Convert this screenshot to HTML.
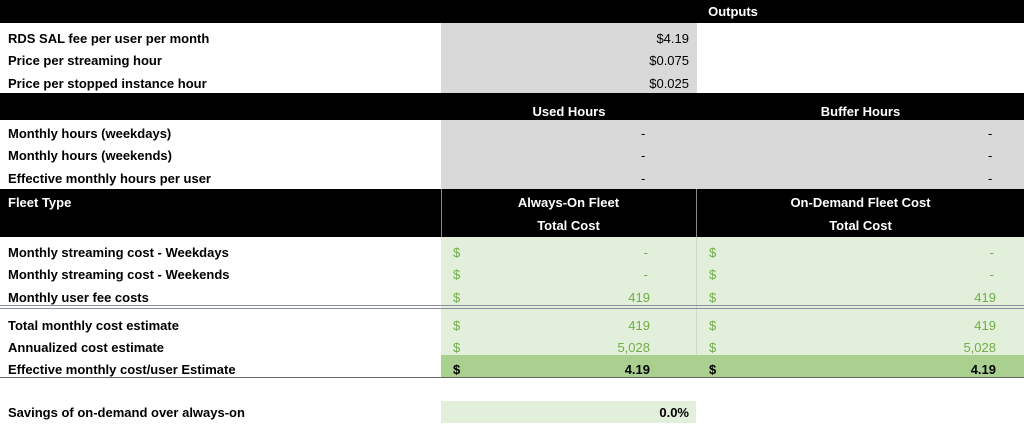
<!DOCTYPE html>
<html><head><meta charset="utf-8"><style>
body{margin:0;width:1024px;height:433px;background:#fff;position:relative;overflow:hidden;font-family:"Liberation Sans",Arial,sans-serif;font-size:13px;font-weight:bold;}
.b{position:absolute;}
.t{position:absolute;white-space:nowrap;line-height:16px;}
.w{color:#fff}
.g{color:#70ad47;font-weight:normal}
.n{font-weight:normal}
</style></head><body>
<!-- top black -->
<div class="b" style="left:0;top:0;width:1024px;height:23px;background:#000"></div>
<div class="t w" style="left:697px;width:72px;top:4px;text-align:center">Outputs</div>
<div class="b" style="left:441px;top:23px;width:256px;height:70px;background:#d9d9d9"></div>
<div class="t" style="left:8px;top:31px">RDS SAL fee per user per month</div>
<div class="t" style="left:8px;top:53px">Price per streaming hour</div>
<div class="t" style="left:8px;top:76px">Price per stopped instance hour</div>
<div class="t n" style="right:335px;top:31px">$4.19</div>
<div class="t n" style="right:335px;top:53px">$0.075</div>
<div class="t n" style="right:335px;top:76px">$0.025</div>
<div class="b" style="left:0;top:93px;width:1024px;height:27px;background:#000"></div>
<div class="t w" style="left:441px;width:256px;top:104px;text-align:center">Used Hours</div>
<div class="t w" style="left:697px;width:327px;top:104px;text-align:center">Buffer Hours</div>
<div class="b" style="left:441px;top:120px;width:583px;height:69px;background:#d9d9d9"></div>
<div class="t" style="left:8px;top:126px">Monthly hours (weekdays)</div>
<div class="t" style="left:8px;top:148px">Monthly hours (weekends)</div>
<div class="t" style="left:8px;top:171px">Effective monthly hours per user</div>
<div class="t n" style="left:641px;top:126px">-</div><div class="t n" style="left:988px;top:126px">-</div>
<div class="t n" style="left:641px;top:148px">-</div><div class="t n" style="left:988px;top:148px">-</div>
<div class="t n" style="left:641px;top:171px">-</div><div class="t n" style="left:988px;top:171px">-</div>
<div class="b" style="left:0;top:189px;width:1024px;height:48px;background:#000"></div>
<div class="b" style="left:441px;top:189px;width:1px;height:48px;background:#888"></div>
<div class="b" style="left:696px;top:189px;width:1px;height:48px;background:#888"></div>
<div class="t w" style="left:8px;top:195px">Fleet Type</div>
<div class="t w" style="left:441px;width:255px;top:195px;text-align:center">Always-On Fleet</div>
<div class="t w" style="left:441px;width:255px;top:218px;text-align:center">Total Cost</div>
<div class="t w" style="left:697px;width:327px;top:195px;text-align:center">On-Demand Fleet Cost</div>
<div class="t w" style="left:697px;width:327px;top:218px;text-align:center">Total Cost</div>
<!-- green -->
<div class="b" style="left:441px;top:237px;width:583px;height:118px;background:#e2efda"></div>
<div class="b" style="left:696px;top:237px;width:1px;height:140px;background:#d0d8cc"></div>
<div class="b" style="left:0;top:305px;width:1024px;height:1px;background:#8b8fa0"></div>
<div class="b" style="left:0;top:308px;width:1024px;height:1px;background:#8b8fa0"></div>
<div class="b" style="left:441px;top:355px;width:583px;height:22px;background:#a9d08e"></div>
<div class="b" style="left:0;top:377px;width:1024px;height:1px;background:#666"></div>
<div class="t" style="left:8px;top:245px">Monthly streaming cost - Weekdays</div>
<div class="t" style="left:8px;top:267px">Monthly streaming cost - Weekends</div>
<div class="t" style="left:8px;top:290px">Monthly user fee costs</div>
<div class="t" style="left:8px;top:318px">Total monthly cost estimate</div>
<div class="t" style="left:8px;top:340px">Annualized cost estimate</div>
<div class="t" style="left:8px;top:362px">Effective monthly cost/user Estimate</div>
<div class="t g" style="left:453px;top:245px">$</div><div class="t g" style="right:376px;top:245px">-</div>
<div class="t g" style="left:709px;top:245px">$</div><div class="t g" style="right:30px;top:245px">-</div>
<div class="t g" style="left:453px;top:267px">$</div><div class="t g" style="right:376px;top:267px">-</div>
<div class="t g" style="left:709px;top:267px">$</div><div class="t g" style="right:30px;top:267px">-</div>
<div class="t g" style="left:453px;top:290px">$</div><div class="t g" style="right:374px;top:290px">419</div>
<div class="t g" style="left:709px;top:290px">$</div><div class="t g" style="right:28px;top:290px">419</div>
<div class="t g" style="left:453px;top:318px">$</div><div class="t g" style="right:374px;top:318px">419</div>
<div class="t g" style="left:709px;top:318px">$</div><div class="t g" style="right:28px;top:318px">419</div>
<div class="t g" style="left:453px;top:340px">$</div><div class="t g" style="right:374px;top:340px">5,028</div>
<div class="t g" style="left:709px;top:340px">$</div><div class="t g" style="right:28px;top:340px">5,028</div>
<div class="t" style="left:453px;top:362px">$</div><div class="t" style="right:374px;top:362px">4.19</div>
<div class="t" style="left:709px;top:362px">$</div><div class="t" style="right:28px;top:362px">4.19</div>
<div class="b" style="left:441px;top:401px;width:255px;height:22px;background:#e2efda"></div>
<div class="t" style="left:8px;top:405px">Savings of on-demand over always-on</div>
<div class="t" style="right:335px;top:405px">0.0%</div>
</body></html>
